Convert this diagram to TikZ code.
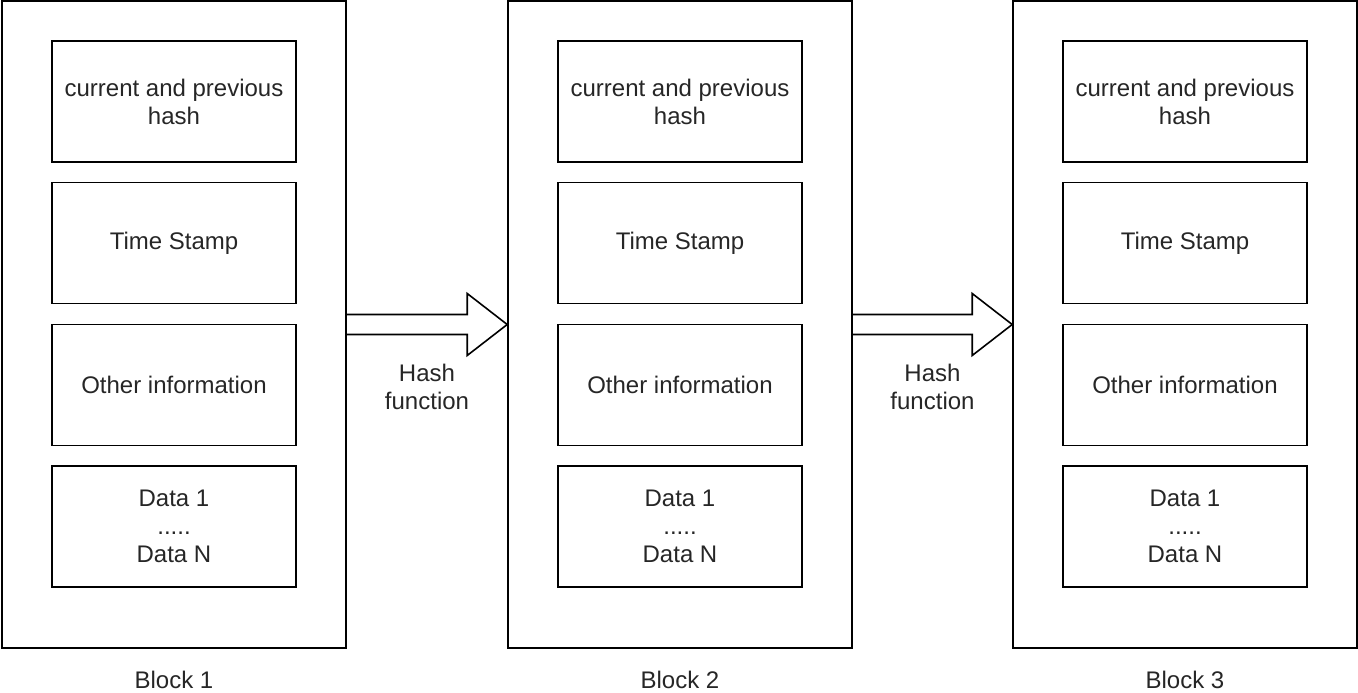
\documentclass[tikz,border=0pt]{standalone}
\usepackage{fontspec}
\setmainfont{Liberation Sans}
\usetikzlibrary{calc}
\tikzset{
  blockbox/.style={draw=black, line width=1.6pt, minimum width=344pt, minimum height=647pt, inner sep=0pt},
  fieldbox/.style={draw=black, line width=1.6pt, minimum width=244pt, minimum height=121pt, inner sep=0pt, align=center, font=\fontsize{24}{28}\selectfont, text=black!85},
  lbl/.style={align=center, font=\fontsize{24}{28}\selectfont, text=black!85, inner sep=0pt},
  fatarrow/.style={draw=black, line width=1.6pt, line join=miter}
}
\begin{document}
\begin{tikzpicture}[x=1pt,y=-1pt]
\useasboundingbox (0,0) rectangle (1358,693);
\foreach \i/\cx in {1/174,2/680,3/1185}{
  \node[blockbox] (b\i) at (\cx,324.5) {};
  \node[fieldbox] (h\i) at (\cx,101.5) {current and previous\\hash};
  \node[fieldbox] (t\i) at (\cx,243) {Time Stamp};
  \node[fieldbox] (o\i) at (\cx,385) {Other information};
  \node[fieldbox] (d\i) at (\cx,526.5) {Data 1\\.....\\Data N};
  \node[lbl] (bl\i) at (\cx,680) {Block \i};
}
\foreach \a/\b in {1/2,2/3}{
  \draw[fatarrow] ($(b\a.east)+(0,-10)$) -- ($(b\b.west)+(-40,-10)$) -- ($(b\b.west)+(-40,-31)$) -- (b\b.west)
     -- ($(b\b.west)+(-40,31)$) -- ($(b\b.west)+(-40,10)$) -- ($(b\a.east)+(0,10)$);
  \node[lbl] (hf\a) at ($(b\a.east)!0.5!(b\b.west)+(0,62)$) {Hash\\function};
}
\end{tikzpicture}
\end{document}
